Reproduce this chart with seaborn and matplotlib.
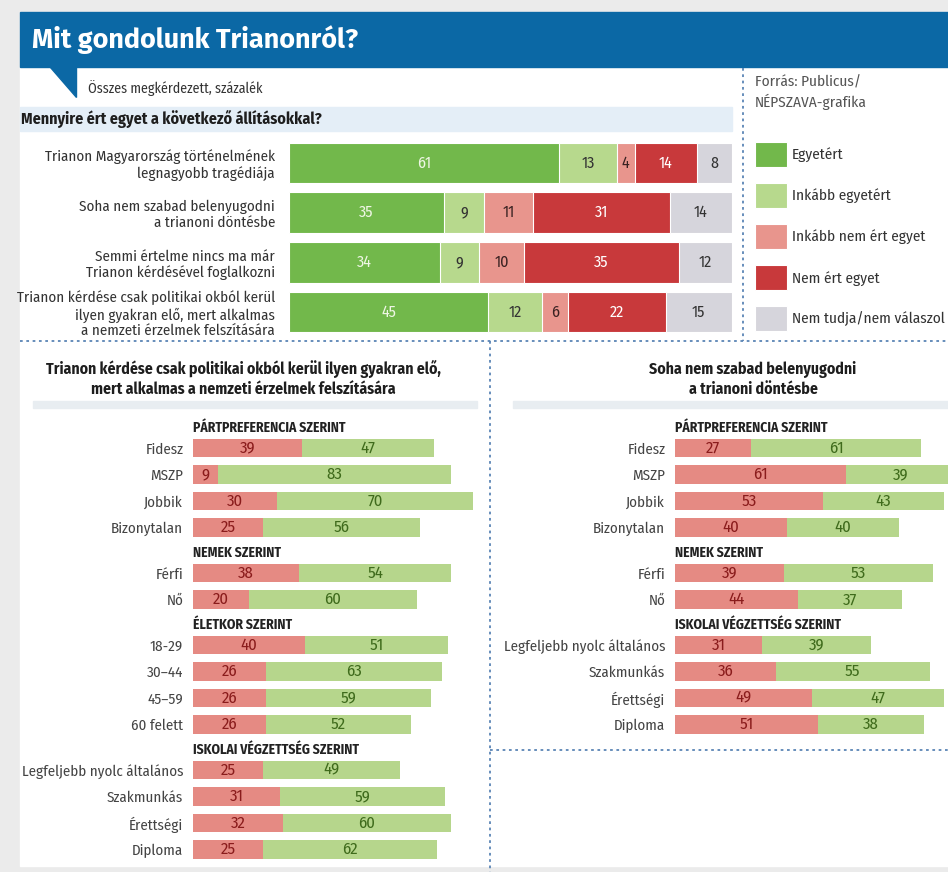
import seaborn as sns
import matplotlib.pyplot as plt
import pandas as pd
from matplotlib import font_manager
from matplotlib.lines import Line2D
from matplotlib.patches import Rectangle, Polygon

W, H = 948, 872

# felső ábra: állítások és válaszok (%)
statements = [
    'Trianon Magyarország történelmének\nlegnagyobb tragédiája',
    'Soha nem szabad belenyugodni\na trianoni döntésbe',
    'Semmi értelme nincs ma már\nTrianon kérdésével foglalkozni',
    'Trianon kérdése csak politikai okból kerül\nilyen gyakran elő, mert alkalmas\na nemzeti érzelmek felszítására',
]
answers = ['Egyetért', 'Inkább egyetért', 'Inkább nem ért egyet', 'Nem ért egyet', 'Nem tudja/nem válaszol']
egyetert = [61, 35, 34, 45]
inkabb_egyetert = [13, 9, 9, 12]
inkabb_nem = [4, 11, 10, 6]
nem_ert = [14, 31, 35, 22]
nem_tudja = [8, 14, 12, 15]

# alsó ábrák
groups_left = ['PÁRTPREFERENCIA SZERINT', 'NEMEK SZERINT', 'ÉLETKOR SZERINT', 'ISKOLAI VÉGZETTSÉG SZERINT']
groups_right = ['PÁRTPREFERENCIA SZERINT', 'NEMEK SZERINT', 'ISKOLAI VÉGZETTSÉG SZERINT']
party = ['Fidesz', 'MSZP', 'Jobbik', 'Bizonytalan']
gender = ['Férfi', 'Nő']
age = ['18-29', '30–44', '45–59', '60 felett']
school = ['Legfeljebb nyolc általános', 'Szakmunkás', 'Érettségi', 'Diploma']

left_red = [39, 9, 30, 25, 38, 20, 40, 26, 26, 26, 25, 31, 32, 25]
left_green = [47, 83, 70, 56, 54, 60, 51, 63, 59, 52, 49, 59, 60, 62]
right_red = [27, 61, 53, 40, 39, 44, 31, 36, 49, 51]
right_green = [61, 39, 43, 40, 53, 37, 39, 55, 47, 38]

top_colors = ['#72b84b', '#b7d98d', '#e8958d', '#c8393b', '#d6d5dc']
top_text = ['#eef6e4', '#333333', '#3a2222', '#ffffff', '#333333']
red_c, green_c = '#e58a83', '#b6d68c'
blue = '#0b68a5'

sns.set_theme(style='white')
have = {f.name for f in font_manager.fontManager.ttflist}
prefs = ['Fira Sans Condensed', 'PT Sans Narrow', 'Archivo Narrow', 'Liberation Sans Narrow',
         'Roboto Condensed', 'Roboto']
narrow = next((n for n in prefs if n in have), 'DejaVu Sans')
title_font = 'Fira Sans' if 'Fira Sans' in have else narrow
plt.rcParams['font.family'] = [narrow, 'DejaVu Sans']


def box(x0, y0, x1, y1):
    return [x0 / W, 1 - y1 / H, (x1 - x0) / W, (y1 - y0) / H]


def fx(x):
    return x / W


def fy(y):
    return 1 - y / H


fig = plt.figure(figsize=(W / 100, H / 100), dpi=100, facecolor='#ebebeb')

# háttér, fejléc
bg = dict(transform=fig.transFigure, zorder=-5)
fig.add_artist(Rectangle((fx(20), fy(866)), fx(948 - 20), (866 - 12) / H, color='white', **bg))
fig.add_artist(Rectangle((fx(20), fy(67)), fx(948 - 20), 55 / H, color=blue, **bg))
fig.add_artist(Polygon([(fx(50), fy(67)), (fx(76), fy(67)), (fx(76), fy(97))], color=blue, **bg))
fig.add_artist(Rectangle((fx(20), fy(131)), fx(732 - 20), 24 / H, color='#e4eef7', **bg))
fig.add_artist(Rectangle((fx(33), fy(408)), fx(477 - 33), 7 / H, color='#e8edf1', **bg))
fig.add_artist(Rectangle((fx(513), fy(408)), fx(948 - 513), 7 / H, color='#e8edf1', **bg))

fig.text(fx(32), fy(40), 'Mit gondolunk Trianonról?', color='white', fontsize=19.5, fontweight='bold',
         va='center', family=[title_font, 'DejaVu Sans'])
fig.text(fx(88), fy(88), 'Összes megkérdezett, százalék', color='#333333', fontsize=10, va='center')
fig.text(fx(21), fy(119), 'Mennyire ért egyet a következő állításokkal?', color='#1e1e1e', fontsize=11.5,
         fontweight='bold', va='center')
fig.text(fx(755), fy(75), 'Forrás: Publicus/\nNÉPSZAVA-grafika', color='#555555', fontsize=11, va='top',
         linespacing=1.35)

# felső halmozott oszlopok
top = pd.DataFrame({'label': statements, 'Egyetért': egyetert, 'Inkább egyetért': inkabb_egyetert,
                    'Inkább nem ért egyet': inkabb_nem, 'Nem ért egyet': nem_ert,
                    'Nem tudja/nem válaszol': nem_tudja})
cum = top[answers].cumsum(axis=1)
cum['label'] = statements

ax = fig.add_axes(box(289, 138, 732, 337))
for name, color in reversed(list(zip(answers, top_colors))):
    sns.barplot(data=cum, x=name, y='label', color=color, saturation=1, width=0.81, orient='y',
                errorbar=None, linewidth=0.8, edgecolor='white', label=name, ax=ax)
if ax.get_legend() is not None:
    ax.get_legend().remove()
for i in range(len(statements)):
    left = 0
    for name, tc in zip(answers, top_text):
        v = top.loc[i, name]
        ax.text(left + v / 2, i, str(v), ha='center', va='center', color=tc, fontsize=11.5)
        left += v
ax.set_xlim(0, 100)
ax.set_xlabel('')
ax.set_ylabel('')
ax.set_xticks([])
ax.tick_params(axis='y', length=0, pad=10, labelsize=10.8, labelcolor='#333333')
for t in ax.get_yticklabels():
    t.set_linespacing(1.15)
sns.despine(ax=ax, left=True, bottom=True)

handles, labels = ax.get_legend_handles_labels()
lookup = dict(zip(labels, handles))
fig.legend([lookup[a] for a in answers], answers, loc='upper left', bbox_to_anchor=(fx(755), fy(142)),
           frameon=False, fontsize=11, handlelength=2.1, handleheight=2.14, labelspacing=1.05,
           handletextpad=0.33, borderpad=0, borderaxespad=0, labelcolor='#333333')

# alsó panelek
pitch = 26.5


def panel(x0, groups, label_lists, firsts, red_vals, green_vals):
    k = 0
    for header, labs, first in zip(groups, label_lists, firsts):
        n = len(labs)
        reds = red_vals[k:k + n]
        greens = green_vals[k:k + n]
        k += n
        df = pd.DataFrame({'label': labs, 'red': reds, 'total': [r + g for r, g in zip(reds, greens)]})
        a = fig.add_axes(box(x0, first - pitch / 2, x0 + 280, first - pitch / 2 + n * pitch))
        a.set_facecolor('none')
        sns.barplot(data=df, x='total', y='label', color=green_c, saturation=1, width=0.68, orient='y',
                    errorbar=None, linewidth=0, ax=a)
        sns.barplot(data=df, x='red', y='label', color=red_c, saturation=1, width=0.68, orient='y',
                    errorbar=None, linewidth=0, ax=a)
        for i, (r, g) in enumerate(zip(reds, greens)):
            a.text(r / 2, i, str(r), ha='center', va='center', color='#8a1c1c', fontsize=12)
            a.text(r + g / 2, i, str(g), ha='center', va='center', color='#3f6b1c', fontsize=12)
        a.set_xlim(0, 100)
        a.set_xlabel('')
        a.set_ylabel('')
        a.set_xticks([])
        a.tick_params(axis='y', length=0, pad=7, labelsize=10.8, labelcolor='#444444')
        a.set_title(header, loc='left', fontsize=9.8, fontweight='bold', pad=2, color='#222222')
        sns.despine(ax=a, left=True, bottom=True)


panel(193, groups_left, [party, gender, age, school], [448, 573, 645, 770], left_red, left_green)
panel(675, groups_right, [party, gender, school], [448, 573, 645], right_red, right_green)

fig.text(fx(243), fy(379), 'Trianon kérdése csak politikai okból kerül ilyen gyakran elő,\n'
         'mert alkalmas a nemzeti érzelmek felszítására', ha='center', va='center', fontsize=11.3,
         fontweight='bold', color='#1e1e1e', linespacing=1.25)
fig.text(fx(753), fy(379), 'Soha nem szabad belenyugodni\na trianoni döntésbe', ha='center', va='center',
         fontsize=11.3, fontweight='bold', color='#1e1e1e', linespacing=1.25)

# pontozott elválasztók
dot = dict(color='#5b85b5', linestyle=(0, (1.5, 2)), linewidth=1.3, transform=fig.transFigure)
fig.add_artist(Line2D([fx(743), fx(743)], [fy(68), fy(341)], **dot))
fig.add_artist(Line2D([fx(20), fx(948)], [fy(341), fy(341)], **dot))
fig.add_artist(Line2D([fx(490), fx(490)], [fy(341), fy(872)], **dot))
fig.add_artist(Line2D([fx(490), fx(948)], [fy(750), fy(750)], **dot))

fig.savefig('out.png', dpi=100, facecolor=fig.get_facecolor())
